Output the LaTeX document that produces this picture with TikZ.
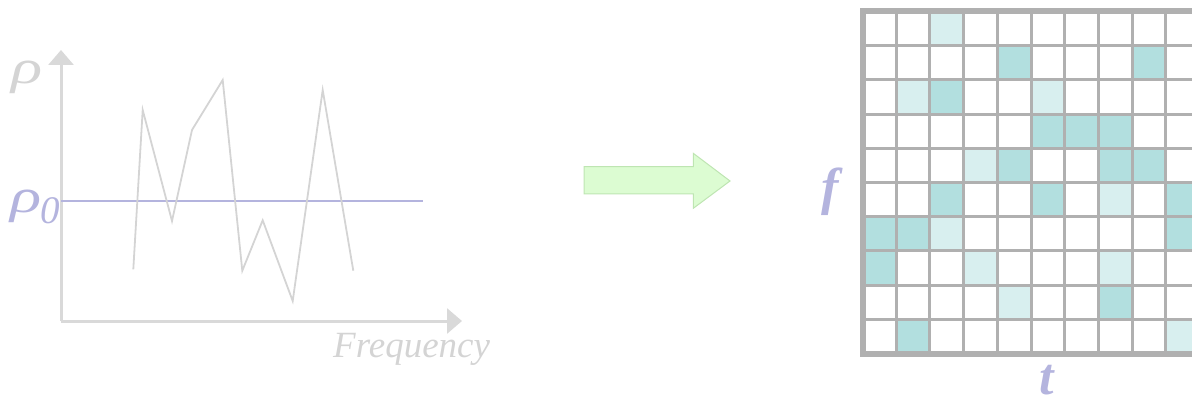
\documentclass[tikz,border=0pt]{standalone}
\usepackage{fontspec}
\setmainfont{Liberation Serif}
\usetikzlibrary{arrows.meta}
\definecolor{axisgray}{HTML}{D9D9D9}
\definecolor{curvegray}{HTML}{D4D4D4}
\definecolor{lavender}{HTML}{B4B4DE}
\definecolor{cellteal}{HTML}{B2DFDF}
\definecolor{celllight}{HTML}{D8EFEF}
\definecolor{gridgray}{HTML}{B0B0B0}
\definecolor{arrowfill}{HTML}{DCFCD2}
\definecolor{arrowedge}{HTML}{BEE5B2}
\newcommand{\widerho}{\scalebox{1.35}[1]{ρ}}
\tikzset{
  axis/.style={draw=axisgray, line width=3pt, -{Triangle[width=25pt,length=15pt]}},
  curve/.style={draw=curvegray, line width=1.8pt, line join=miter},
  levelline/.style={draw=lavender, line width=1.8pt},
  cellsolid/.style={fill=cellteal},
  celldots/.style={fill=celllight},
  gridline/.style={draw=gridgray, line width=3pt},
  gridborder/.style={draw=gridgray, line width=6pt},
  bigarrow/.style={fill=arrowfill, draw=arrowedge, line width=1pt, line join=miter},
  graylabel/.style={text=curvegray, inner sep=0pt, anchor=base west},
  rholabel/.style={inner sep=0pt, anchor=base west, font=\fontsize{48}{48}\selectfont\itshape},
  axislabel/.style={text=lavender, inner sep=0pt, font=\fontsize{52}{52}\selectfont\bfseries\itshape}
}
\begin{document}
\begin{tikzpicture}[x=1pt,y=-1pt]
\useasboundingbox (0,0) rectangle (1192,401);
\clip (0,0) rectangle (1192,401);

% spectrum plot
\coordinate (orig) at (61,321);
\coordinate (ytop) at (61,50);
\coordinate (xend) at (462,321);
\draw[axis] (orig) -- (ytop);
\draw[axis] (orig) -- (xend);
\coordinate (lvA) at (61,200.7);
\coordinate (lvB) at (423,200.7);
\draw[levelline] (lvA) -- (lvB);
\draw[curve] (133.3,269.3) -- (142.7,110) -- (172,221) -- (192,130) -- (222.7,80)
  -- (242.3,270.7) -- (262.7,220.3) -- (292.7,301) -- (322.7,90) -- (353.3,270.7);

\node[rholabel, text=curvegray] (rho) at (11,84) {\widerho};
\node[rholabel, text=lavender] (rho0) at (10,212) {\widerho};
\node[rholabel, text=lavender, font=\fontsize{39}{39}\selectfont\itshape] (sub0) at (40,223) {0};
\node[graylabel, font=\fontsize{37}{37}\selectfont\itshape] (freq) at (333,357) {Frequency};

% block arrow
\draw[bigarrow] (584,166.7) -- (693.3,166.7) -- (693.3,153.3) -- (730,181)
  -- (693.3,208.3) -- (693.3,194) -- (584,194) -- cycle;

% time-frequency grid
\def\gx{862.5}\def\gy{11.5}\def\gw{33.7}\def\gh{34.2}
\foreach \r/\c in {1/4,1/8,2/2,3/5,3/6,3/7,4/4,4/7,4/8,5/2,5/5,5/9,6/0,6/1,6/9,7/0,8/7,9/1}
  \fill[cellsolid] ({\gx+\c*\gw},{\gy+\r*\gh}) rectangle ++(\gw,\gh);
\foreach \r/\c in {0/2,2/1,2/5,4/3,5/7,6/2,7/3,7/7,8/4,9/9}
  \fill[celldots] ({\gx+\c*\gw},{\gy+\r*\gh}) rectangle ++(\gw,\gh);
\foreach \i in {1,...,9} {
  \draw[gridline] ({\gx+\i*\gw},\gy) -- ++(0,{10*\gh});
  \draw[gridline] (\gx,{\gy+\i*\gh}) -- ++({10*\gw},0);
}
\draw[gridborder] (\gx,\gy) rectangle ++({10*\gw},{10*\gh});

\node[axislabel] (flab) at (830,192) {f};
\node[axislabel] (tlab) at (1047,380) {t};
\end{tikzpicture}
\end{document}
